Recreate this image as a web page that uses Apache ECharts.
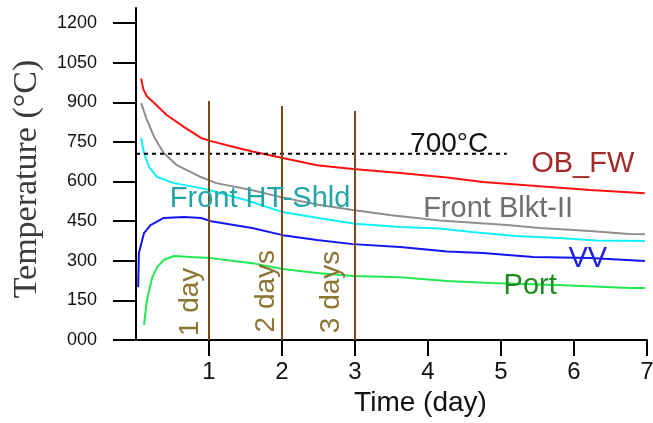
<!DOCTYPE html>
<html>
<head>
<meta charset="utf-8">
<script src="https://cdn.jsdelivr.net/npm/echarts@6/dist/echarts.min.js"></script>
<style>
html,body{margin:0;padding:0;background:#fff;}
#main{width:653px;height:423px;}
</style>
</head>
<body>
<div id="main"></div>
<script>
// ---- data (day, °C) ----
const obFw = [[0.07,990],[0.1,950],[0.15,922],[0.25,897],[0.42,852],[0.66,806],[0.89,765],[1.03,753],[1.34,731],[1.58,715],[2.01,689],[2.48,662],[2.97,647],[3.62,632],[4.26,615],[4.75,598],[5.3,587],[6.22,568],[6.97,556]];
const frontBlkt = [[0.07,897],[0.15,833],[0.25,768],[0.38,708],[0.56,662],[0.89,617],[1.1,594],[1.58,568],[2.0,540],[2.5,512],[2.97,492],[3.5,472],[4.16,452],[5.08,435],[5.53,424],[6.22,413],[6.75,401],[6.97,400]];
const frontHtShld = [[0.07,765],[0.11,708],[0.18,655],[0.29,617],[0.52,594],[0.89,575],[1.0,568],[1.5,530],[2.0,485],[2.5,462],[3.0,440],[3.62,428],[4.16,422],[4.6,409],[5.2,394],[5.8,386],[6.3,377],[6.97,375]];
const vv = [[0.03,200],[0.04,330],[0.11,405],[0.2,435],[0.38,462],[0.66,466],[0.89,462],[1.03,450],[1.34,435],[1.59,424],[2.01,397],[2.48,379],[2.97,363],[3.62,352],[4.26,335],[4.75,329],[5.44,314],[6.22,310],[6.97,299]];
const port = [[0.11,57],[0.15,151],[0.22,235],[0.29,276],[0.38,303],[0.52,318],[0.75,314],[1.03,310],[1.34,299],[1.59,291],[2.01,269],[2.48,254],[2.97,242],[3.62,238],[4.26,223],[4.85,216],[5.77,208],[6.77,197],[6.97,197]];
const threshold = [[0,705],[5.08,705]];
const dayMarkers = [[1,905],[2,886],[3,867]];
const dayMarkerLabels = ['1 day','2 days','3 days'];
const xTicks = [1,2,3,4,5,6,7];
const yTicks = [0,150,300,450,600,750,900,1050,1200];
const yTickLabels = ['000','150','300','450','600','750','900','1050','1200'];

const chart = echarts.init(document.getElementById('main'), null, {renderer:'canvas'});
const SANS = '"Liberation Sans", Arial, sans-serif';

function lineSeries(name, data, color, z){
  return {name, type:'line', data, symbol:'none', smooth:false, z: z||2,
    lineStyle:{color, width:2}, itemStyle:{color}, animation:false};
}

const series = [
  lineSeries('OB_FW', obFw, '#ff1010'),
  lineSeries('Front Blkt-II', frontBlkt, '#8e8e8e'),
  lineSeries('Front HT-Shld', frontHtShld, '#10f0f8'),
  lineSeries('VV', vv, '#1414f0'),
  lineSeries('Port', port, '#20e850'),
  {name:'700°C', type:'line', data:threshold, symbol:'none', z:3, animation:false,
    lineStyle:{color:'#000', width:2, type:[4,4]}}
];
dayMarkers.forEach((m,i)=>{
  series.push({name:dayMarkerLabels[i], type:'line', data:[[m[0],0],[m[0],m[1]]], symbol:'none', z:4, animation:false,
    lineStyle:{color:'#7a4a1c', width:2}});
});

chart.setOption({
  backgroundColor:'#fff',
  animation:false,
  grid:{left:136, right:6, top:8, bottom:83, containLabel:false, outerBoundsMode:'none'},
  xAxis:{
    type:'value', min:0, max:7,
    name:'Time (day)', nameLocation:'middle', nameGap:44,
    nameTextStyle:{color:'#111', fontSize:28, fontFamily:SANS, padding:[0,0,0,58]},
    axisLine:{show:true, onZero:false, lineStyle:{color:'#000', width:2}},
    axisTick:{show:true, length:16, lineStyle:{color:'#000', width:2}, customValues:xTicks},
    axisLabel:{show:true, customValues:xTicks, color:'#111', fontSize:24, fontFamily:SANS, margin:20},
    splitLine:{show:false}
  },
  yAxis:{
    type:'value', min:0, max:1257,
    name:'Temperature (°C)', nameLocation:'middle', nameRotate:90, nameGap:92,
    nameTextStyle:{color:'#3a3a3a', fontSize:34, fontFamily:'"Liberation Serif", "Times New Roman", serif', padding:[0,10,0,0]},
    axisLine:{show:true, onZero:false, lineStyle:{color:'#000', width:2}},
    axisTick:{show:true, length:23, lineStyle:{color:'#000', width:2}, customValues:yTicks},
    axisLabel:{show:true, customValues:yTicks, color:'#111', fontSize:18, fontFamily:SANS, margin:39,
      formatter:function(v){ const i = yTicks.indexOf(v); return i>=0 ? yTickLabels[i] : ''; }},
    splitLine:{show:false}
  },
  series
});

// text annotations placed in data coordinates
const notes = [
  {text:'OB_FW', at:[6.12,666], color:'#a32a2a', size:29},
  {text:'Front Blkt-II', at:[4.96,496], color:'#6e6e6e', size:29},
  {text:'Front HT-Shld', at:[1.70,534], color:'#23a5a5', size:29},
  {text:'VV', at:[6.19,307], color:'#2020e0', size:29},
  {text:'Port', at:[5.40,204], color:'#1e8c1e', size:29},
  {text:'700°C', at:[4.29,742], color:'#111', size:28},
  {text:dayMarkerLabels[0], at:[0.74,144], color:'#8c7634', size:28, rot:true},
  {text:dayMarkerLabels[1], at:[1.78,185], color:'#8c7634', size:28, rot:true},
  {text:dayMarkerLabels[2], at:[2.67,182], color:'#8c7634', size:28, rot:true}
];
const graphic = notes.map(n=>{
  const p = chart.convertToPixel({gridIndex:0}, n.at);
  return {type:'text', x:p[0], y:p[1], rotation: n.rot ? Math.PI/2 : 0, z:100,
    style:{text:n.text, fill:n.color, fontSize:n.size, fontFamily:SANS, align:'center', verticalAlign:'middle'}};
});
chart.setOption({graphic});
</script>
</body>
</html>
